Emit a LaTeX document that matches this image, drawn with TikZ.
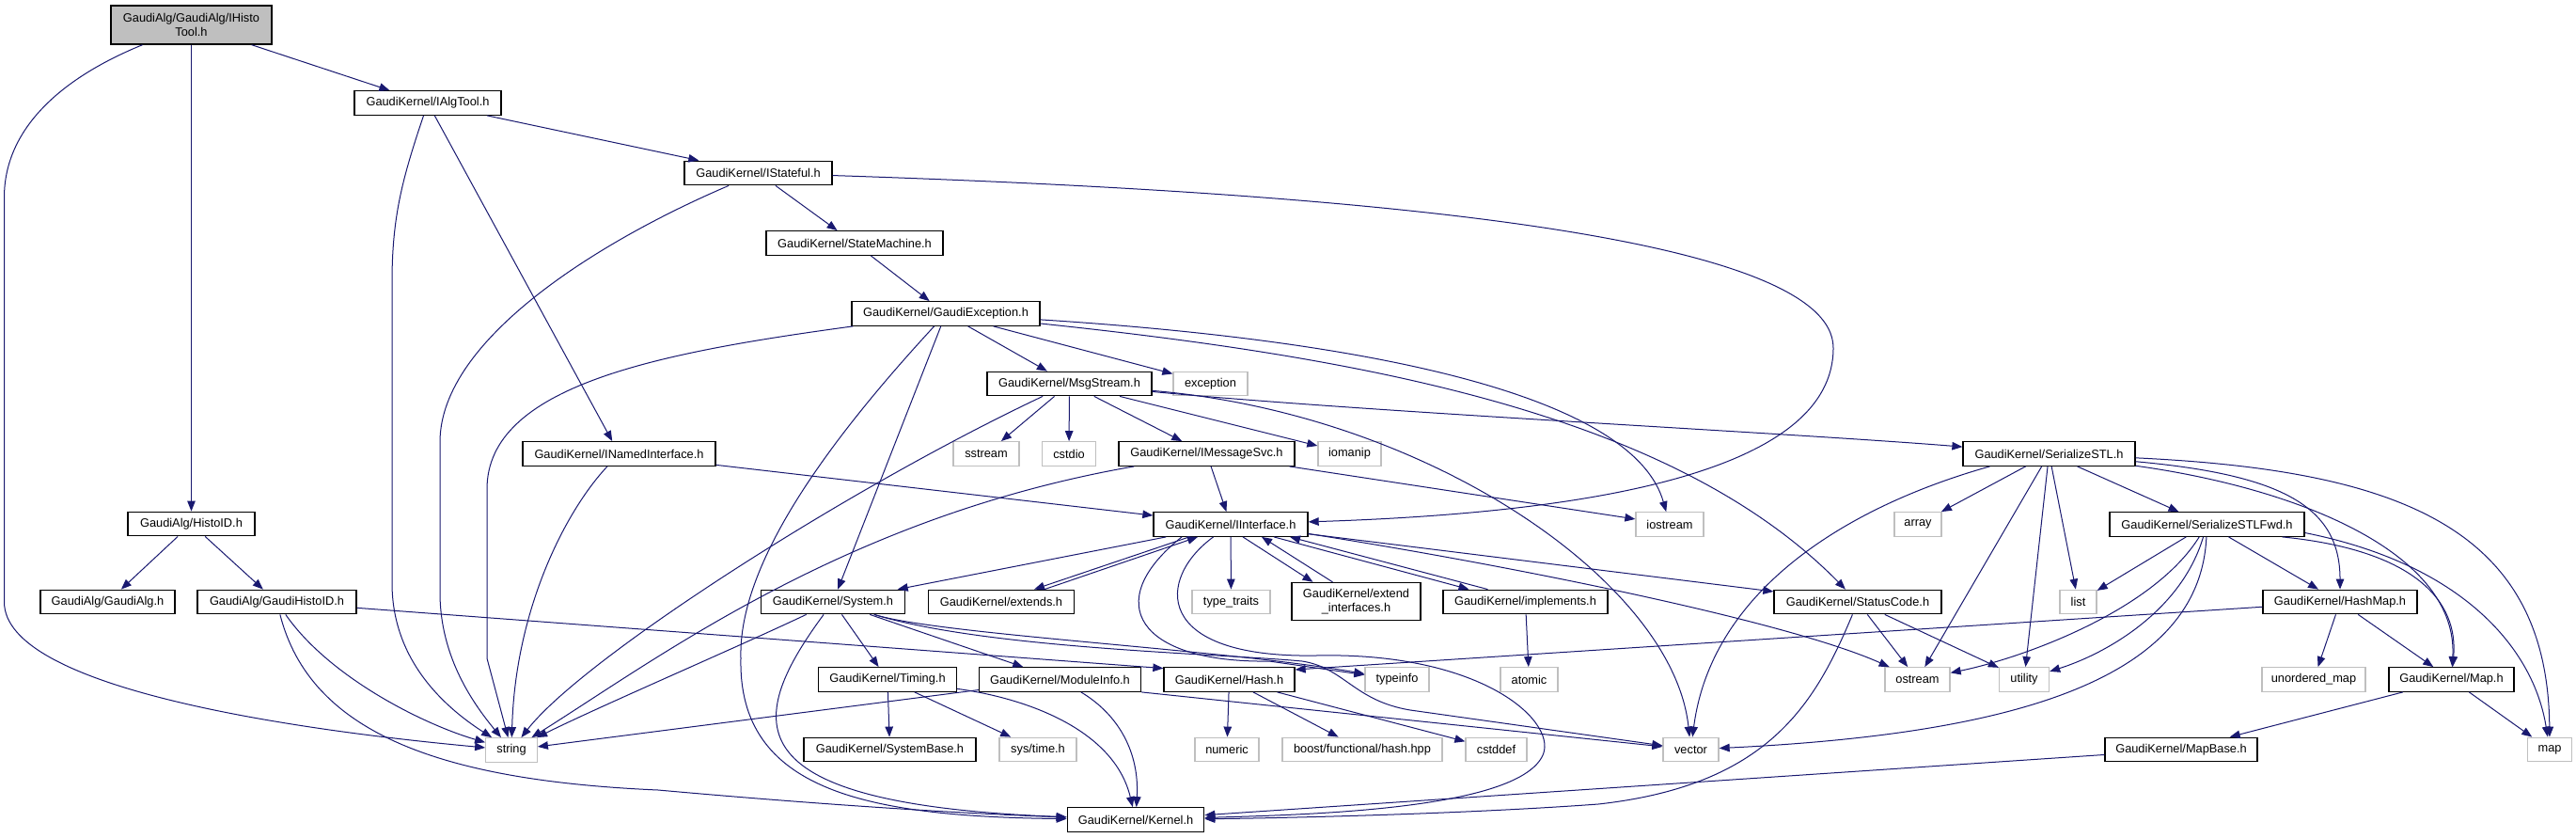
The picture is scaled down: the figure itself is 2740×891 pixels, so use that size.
\documentclass[tikz,border=0pt]{standalone}
\usepackage{fontspec}
\setmainfont{Liberation Sans}
\usetikzlibrary{arrows.meta,calc}
\definecolor{edgeblue}{HTML}{191970}
\definecolor{greyb}{HTML}{BFBFBF}
\begin{document}
\begin{tikzpicture}[x=1pt,y=-1pt,
  every node/.style={font=\fontsize{12.8}{15}\selectfont, inner sep=0pt, minimum height=25.5pt, anchor=center},
  docnode/.style={draw=black, line width=1.3pt, fill=white},
  sysnode/.style={draw=greyb, line width=1.3pt, fill=white},
  rootnode/.style={draw=black, line width=1.3pt, fill=greyb},
  dep/.style={draw=edgeblue, line width=1pt, -{Triangle[length=11pt,width=8.5pt]}},
]
\useasboundingbox[fill=white] (0,0) rectangle (2740,891);

% ---------- nodes ----------
\node[rootnode, minimum width=171pt, minimum height=41pt, align=center] (root) at (203.5,26.5) {GaudiAlg/GaudiAlg/IHisto\\Tool.h};
\node[docnode, minimum width=156pt] (ialgtool) at (455,109.5) {GaudiKernel/IAlgTool.h};
\node[docnode, minimum width=157pt] (istateful) at (806.5,184) {GaudiKernel/IStateful.h};
\node[docnode, minimum width=188pt] (statemachine) at (909,258.5) {GaudiKernel/StateMachine.h};
\node[docnode, minimum width=200pt] (gaudiexc) at (1006,333.5) {GaudiKernel/GaudiException.h};
\node[docnode, minimum width=175pt] (msgstream) at (1137.5,408) {GaudiKernel/MsgStream.h};
\node[sysnode, minimum width=79pt] (exception) at (1287.5,408) {exception};
\node[docnode, minimum width=205pt] (inamed) at (658.5,482.5) {GaudiKernel/INamedInterface.h};
\node[sysnode, minimum width=70pt] (sstream) at (1049,482.5) {sstream};
\node[sysnode, minimum width=57pt] (cstdio) at (1137,482.5) {cstdio};
\node[docnode, minimum width=187pt] (imsgsvc) at (1283.5,482.5) {GaudiKernel/IMessageSvc.h};
\node[sysnode, minimum width=67pt] (iomanip) at (1435.5,482.5) {iomanip};
\node[docnode, minimum width=183pt] (serstl) at (2179.5,482.5) {GaudiKernel/SerializeSTL.h};
\node[docnode, minimum width=135pt] (histoid) at (203.5,557) {GaudiAlg/HistoID.h};
\node[docnode, minimum width=164pt] (iinterface) at (1309,557.5) {GaudiKernel/IInterface.h};
\node[sysnode, minimum width=72pt] (iostream) at (1776,557.5) {iostream};
\node[sysnode, minimum width=50pt] (array) at (2040,557.5) {array};
\node[docnode, minimum width=207pt] (serfwd) at (2347.5,557.5) {GaudiKernel/SerializeSTLFwd.h};
\node[docnode, minimum width=143pt] (gaudialg) at (114.5,640) {GaudiAlg/GaudiAlg.h};
\node[docnode, minimum width=169pt] (ghistoid) at (294.5,640) {GaudiAlg/GaudiHistoID.h};
\node[docnode, minimum width=153.5pt] (system) at (886,640) {GaudiKernel/System.h};
\node[docnode, minimum width=155pt] (extends) at (1065,640) {GaudiKernel/extends.h};
\node[sysnode, minimum width=83pt] (typetraits) at (1309.5,640) {type\_traits};
\node[docnode, minimum width=137pt, minimum height=40pt, align=center] (extendif) at (1442.5,639.5) {GaudiKernel/extend\\\_interfaces.h};
\node[docnode, minimum width=175pt] (implements) at (1622.5,640) {GaudiKernel/implements.h};
\node[docnode, minimum width=178pt] (statuscode) at (1976,640) {GaudiKernel/StatusCode.h};
\node[sysnode, minimum width=39pt] (list) at (2210.5,640) {list};
\node[docnode, minimum width=164pt] (hashmap) at (2489,640) {GaudiKernel/HashMap.h};
\node[docnode, minimum width=147pt] (timing) at (944,722.5) {GaudiKernel/Timing.h};
\node[docnode, minimum width=172pt] (moduleinfo) at (1127.5,722.5) {GaudiKernel/ModuleInfo.h};
\node[docnode, minimum width=139pt] (hash) at (1307.5,722.5) {GaudiKernel/Hash.h};
\node[sysnode, minimum width=68pt] (typeinfo) at (1486,722.5) {typeinfo};
\node[sysnode, minimum width=61pt] (atomic) at (1626.5,722.5) {atomic};
\node[sysnode, minimum width=69pt] (ostream) at (2039.5,722.5) {ostream};
\node[sysnode, minimum width=53pt] (utility) at (2153,722.5) {utility};
\node[sysnode, minimum width=110pt] (unordmap) at (2461,722.5) {unordered\_map};
\node[docnode, minimum width=133pt] (maph) at (2607.5,722.5) {GaudiKernel/Map.h};
\node[sysnode, minimum width=54.5pt] (string) at (544,797.5) {string};
\node[docnode, minimum width=183pt] (systembase) at (946.5,797) {GaudiKernel/SystemBase.h};
\node[sysnode, minimum width=82pt] (systime) at (1104,797) {sys/time.h};
\node[sysnode, minimum width=68pt] (numeric) at (1305,797) {numeric};
\node[sysnode, minimum width=170pt] (boost) at (1449,797) {boost/functional/hash.hpp};
\node[sysnode, minimum width=65pt] (cstddef) at (1591.5,797) {cstddef};
\node[sysnode, minimum width=59pt] (vector) at (1798.5,797) {vector};
\node[docnode, minimum width=162pt] (mapbase) at (2320,797) {GaudiKernel/MapBase.h};
\node[sysnode, minimum width=46.5pt] (map) at (2712,797) {map};
\node[docnode, minimum width=145.5pt] (kernel) at (1208,871.5) {GaudiKernel/Kernel.h};

% ---------- edges ----------
% root
\draw[dep] (root) .. controls (60,85) and (4.5,140) .. (4.5,210) -- (4.5,640) .. controls (4.5,730) and (300,775) .. (string);
\draw[dep] (root) -- (histoid);
\draw[dep] (root) -- (ialgtool);
% IAlgTool
\draw[dep] (ialgtool) -- (istateful);
\draw[dep] (ialgtool) -- (inamed);
\draw[dep] (ialgtool) .. controls (428,190) and (417,230) .. (417,300) -- (417,620) .. controls (417,700) and (470,750) .. (string);
% IStateful
\draw[dep] (istateful) -- (statemachine);
\draw[dep] (istateful) .. controls (640,255) and (468,360) .. (468,470) -- (468,630) .. controls (468,700) and (505,750) .. (string);
\draw[dep] (istateful) .. controls (1450,205) and (1950,250) .. (1950,370) .. controls (1950,500) and (1700,545) .. (iinterface);
% StateMachine
\draw[dep] (statemachine) -- (gaudiexc);
% GaudiException
\draw[dep] (gaudiexc) -- (msgstream);
\draw[dep] (gaudiexc) -- (exception);
\draw[dep] (gaudiexc) .. controls (700,375) and (518,410) .. (518,520) -- (518,700) -- (string);
\draw[dep] (gaudiexc) -- (system);
\draw[dep] (gaudiexc) .. controls (880,470) and (785,600) .. (788,700) .. controls (785,840) and (920,868) .. (kernel);
\draw[dep] (gaudiexc) .. controls (1500,365) and (1740,430) .. (iostream);
\draw[dep] (gaudiexc) .. controls (1450,380) and (1780,440) .. (statuscode);
% MsgStream
\draw[dep] (msgstream) .. controls (900,520) and (620,700) .. (string);
\draw[dep] (msgstream) -- (sstream);
\draw[dep] (msgstream) -- (cstdio);
\draw[dep] (msgstream) -- (imsgsvc);
\draw[dep] (msgstream) -- (iomanip);
\draw[dep] (msgstream) .. controls (1450,438) and (1900,460) .. (serstl);
\draw[dep] (msgstream) .. controls (1520,440) and (1780,620) .. (vector);
% IMessageSvc
\draw[dep] (imsgsvc) -- (iinterface);
\draw[dep] (imsgsvc) .. controls (900,549) and (700,700) .. (string);
\draw[dep] (imsgsvc) -- (iostream);
% INamedInterface
\draw[dep] (inamed) -- (iinterface);
\draw[dep] (inamed) .. controls (600,545) and (548,650) .. (string);
% IInterface
\draw[dep] (iinterface) -- (system);
\draw[dep] ($(iinterface.south)+(-44,0)$) -- ($(extends.north)+(35,0)$);
\draw[dep] ($(extends.north)+(46,0)$) -- ($(iinterface.south)+(-35,0)$);
\draw[dep] (iinterface) -- (typetraits);
\draw[dep] ($(iinterface.south)+(13,0)$) -- ($(extendif.north)+(-46,0)$);
\draw[dep] ($(extendif.north)+(-25,0)$) -- ($(iinterface.south)+(33,0)$);
\draw[dep] ($(iinterface.south)+(46,0)$) -- ($(implements.north)+(-60,0)$);
\draw[dep] ($(implements.north)+(-40,0)$) -- ($(iinterface.south)+(63,0)$);
\draw[dep] (iinterface) -- (statuscode);
\draw[dep] ($(iinterface.east)+(0,10)$) .. controls (1600,600) and (1900,660) .. (ostream);
\draw[dep] (iinterface) .. controls (1230,615) and (1225,700) .. (1400,697) .. controls (1580,693) and (1660,770) .. (1640,805) .. controls (1610,860) and (1400,866) .. (kernel);
\draw[dep] ($(iinterface.south)+(-52,0)$) .. controls (1170,640) and (1210,705) .. (1350,703) -- (typeinfo);
% implements
\draw[dep] (implements) -- (atomic);
% System
\draw[dep] (system) .. controls (780,690) and (640,750) .. (string);
\draw[dep] (system) .. controls (790,770) and (780,855) .. (kernel);
\draw[dep] (system) -- (timing);
\draw[dep] (system) -- (moduleinfo);
\draw[dep] (system) .. controls (1000,675) and (1300,690) .. (typeinfo);
\draw[dep] (system) .. controls (1050,690) and (1300,695) .. (1385,703) .. controls (1430,710) and (1440,745) .. (1500,755) -- (vector);
% Timing
\draw[dep] (timing) -- (systembase);
\draw[dep] (timing) -- (systime);
\draw[dep] (timing) .. controls (1090,742) and (1185,775) .. (kernel);
% ModuleInfo
\draw[dep] (moduleinfo) -- (string);
\draw[dep] (moduleinfo) .. controls (1190,760) and (1212,800) .. (kernel);
\draw[dep] (moduleinfo.south east) -- (vector);
% Hash
\draw[dep] (hash) -- (numeric);
\draw[dep] (hash) -- (boost);
\draw[dep] (hash) -- (cstddef);
% HistoID / GaudiHistoID
\draw[dep] (histoid) -- (gaudialg);
\draw[dep] (histoid) -- (ghistoid);
\draw[dep] (ghistoid) .. controls (350,720) and (450,770) .. (string);
\draw[dep] (ghistoid) .. controls (330,780) and (470,830) .. (700,840) .. controls (900,858) and (1050,866) .. (kernel);
\draw[dep] (ghistoid) -- ($(hash.north west)+(0,1.5)$);
% StatusCode
\draw[dep] (statuscode) -- (ostream);
\draw[dep] (statuscode) -- (utility);
\draw[dep] (statuscode) .. controls (1930,750) and (1880,835) .. (1700,855) .. controls (1550,866) and (1350,870) .. (kernel);
% SerializeSTL
\draw[dep] ($(serstl.south)+(-63,0)$) .. controls (1960,540) and (1820,630) .. (vector);
\draw[dep] (serstl) -- (array);
\draw[dep] (serstl) -- (ostream);
\draw[dep] (serstl) -- (utility);
\draw[dep] (serstl) -- (list);
\draw[dep] (serstl) -- (serfwd);
\draw[dep] (serstl) .. controls (2430,505) and (2489,540) .. (hashmap);
\draw[dep] (serstl) .. controls (2450,520) and (2615,590) .. (maph);
\draw[dep] (serstl) .. controls (2550,500) and (2710,560) .. (map);
% SerializeSTLFwd
\draw[dep] (serfwd) -- (list);
\draw[dep] (serfwd) .. controls (2290,650) and (2150,700) .. (ostream);
\draw[dep] (serfwd) .. controls (2320,650) and (2240,695) .. (utility);
\draw[dep] (serfwd) .. controls (2340,720) and (2150,780) .. (vector);
\draw[dep] (serfwd) -- (hashmap);
\draw[dep] ($(serfwd.south)+(80,0)$) .. controls (2570,585) and (2615,640) .. (maph);
\draw[dep] ($(serfwd.east)+(0,9)$) .. controls (2620,600) and (2695,690) .. (map);
% HashMap
\draw[dep] (hashmap) -- (unordmap);
\draw[dep] (hashmap) -- (maph);
\draw[dep] (hashmap) -- ($(hash.east)+(0,-10.5)$);
% Map / MapBase
\draw[dep] (maph) -- (mapbase);
\draw[dep] (maph) -- (map);
\draw[dep] (mapbase) -- (kernel);
\end{tikzpicture}
\end{document}
